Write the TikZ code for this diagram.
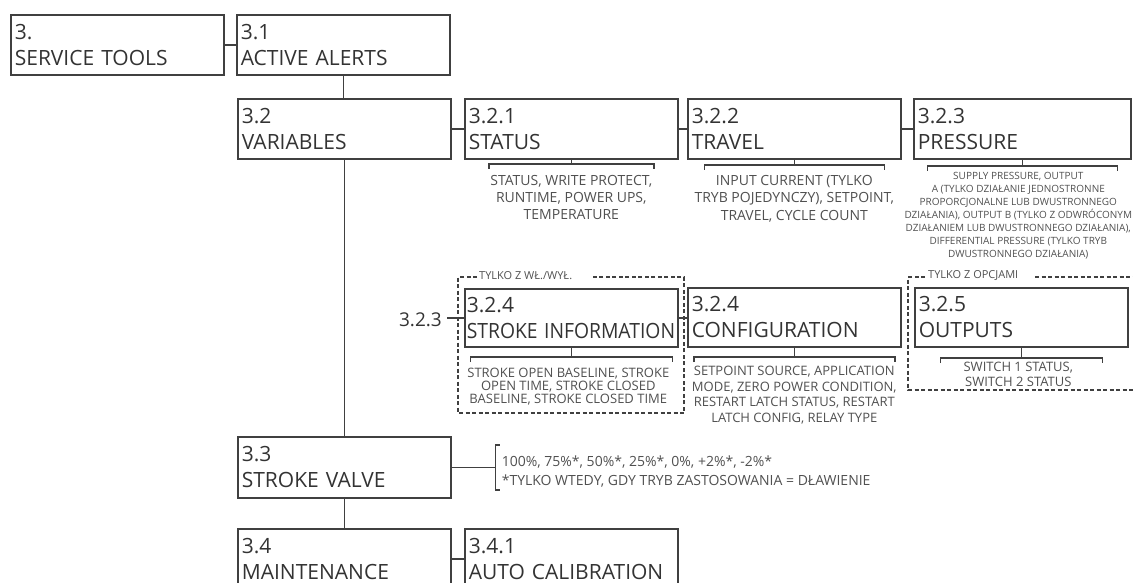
\documentclass[tikz,border=0pt]{standalone}
\usepackage{fontspec}
\setmainfont{Open Sans}
\usepackage{graphicx}
\usetikzlibrary{positioning}

\definecolor{linegray}{HTML}{404040}
\definecolor{boxtext}{HTML}{333333}
\definecolor{desctext}{HTML}{505050}

% stem below a box and a bracket with end ticks: node, bracket y, half width
\newcommand{\descbracket}[3]{%
  \coordinate (#1-y) at (0,#2);
  \draw[conn] (#1.south) -- (#1.south |- #1-y) coordinate (#1-br);
  \draw[conn] ([shift={(-#3,5)}]#1-br) -- ++(0,-5) -- ++(2*#3,0) -- ++(0,5);}

\begin{document}
\begin{tikzpicture}[x=1pt, y=-1pt,
  menubox/.style={rectangle, draw=linegray, line width=1.6pt, anchor=north west,
    minimum width=213pt, minimum height=60pt, inner xsep=4pt, inner ysep=0pt,
    text width=205pt, align=left, text=boxtext,
    font=\fontsize{21}{26}\selectfont},
  conn/.style={draw=linegray, line width=1.6pt},
  desc/.style={align=center, inner sep=0pt, anchor=north, text=desctext},
  grouplabel/.style={inner sep=0pt, anchor=west, text=desctext,
    font=\fontsize{11}{11}\selectfont},
  groupframe/.style={draw=linegray, line width=1.4pt,
    dash pattern=on 4pt off 2.5pt}]
  \useasboundingbox (0,0) rectangle (1133,583);

  % menu boxes
  \node[menubox] (svc) at (10,14) {3.\\SERVICE TOOLS};
  \node[menubox] (alerts) at (236,14) {3.1\\ACTIVE ALERTS};
  \node[menubox] (vars) at (237,98) {3.2\\VARIABLES};
  \node[menubox] (status) at (464,98) {3.2.1\\STATUS};
  \node[menubox] (travel) at (687,98) {3.2.2\\TRAVEL};
  \node[menubox, minimum width=217pt, text width=209pt] (pressure) at (913,98) {3.2.3\\PRESSURE};
  \node[menubox, minimum height=58pt, inner xsep=2pt, text width=209pt] (strokeinfo) at (464,288)
    {3.2.4\\\scalebox{0.92}[1]{STROKE INFORMATION}};
  \node[menubox, minimum height=59pt] (config) at (687,287) {3.2.4\\CONFIGURATION};
  \node[menubox, minimum height=59pt] (outputs) at (914,287) {3.2.5\\OUTPUTS};
  \node[menubox, minimum height=61pt] (strokevalve) at (237,436) {3.3\\STROKE VALVE};
  \node[menubox] (maint) at (237,528) {3.4\\MAINTENANCE};
  \node[menubox] (autocal) at (464,528) {3.4.1\\AUTO CALIBRATION};

  \node[inner xsep=5pt, inner ysep=0pt, anchor=base east, text=boxtext,
    font=\fontsize{19}{19}\selectfont] (pressref) at (447,326) {3.2.3};

  % tree connectors
  \draw[conn] (svc.east) -- (alerts.west);
  \draw[conn] (alerts.south) -- (alerts.south |- vars.north);
  \draw[conn] (vars.east) -- (status.west);
  \draw[conn] (status.east) -- (travel.west);
  \draw[conn] (travel.east) -- (pressure.west);
  \draw[conn] (vars.south) -- (vars.south |- strokevalve.north);
  \draw[conn] (strokevalve.south) -- (strokevalve.south |- maint.north);
  \draw[conn] (maint.east) -- (autocal.west);
  \draw[conn] (strokeinfo.east) -- (strokeinfo.east -| config.west);
  \draw[conn] (pressref.east |- strokeinfo.west) -- (strokeinfo.west);

  % brackets and contents
  \descbracket{status}{164}{82.5}
  \descbracket{travel}{165}{90}
  \descbracket{pressure}{166}{95}
  \descbracket{strokeinfo}{357}{101}
  \descbracket{config}{357}{100.5}
  \descbracket{outputs}{358}{81}

  \node[desc, below=10.8pt of status-br, font=\fontsize{14}{17}\selectfont] (statusdesc)
    {STATUS, WRITE PROTECT,\\RUNTIME, POWER UPS,\\TEMPERATURE};
  \node[desc, below=9.8pt of travel-br, font=\fontsize{14}{17.5}\selectfont] (traveldesc)
    {INPUT CURRENT (TYLKO\\TRYB POJEDYNCZY), SETPOINT,\\TRAVEL, CYCLE COUNT};
  \node[desc, below=6.3pt of pressure-br, xshift=-4pt, font=\fontsize{10}{13}\selectfont] (pressuredesc)
    {SUPPLY PRESSURE, OUTPUT\\A (TYLKO DZIAŁANIE JEDNOSTRONNE\\PROPORCJONALNE LUB DWUSTRONNEGO\\
     DZIAŁANIA), OUTPUT B (TYLKO Z ODWRÓCONYM\\DZIAŁANIEM LUB DWUSTRONNEGO DZIAŁANIA),\\
     DIFFERENTIAL PRESSURE (TYLKO TRYB\\DWUSTRONNEGO DZIAŁANIA)};
  \node[desc, below=10.7pt of strokeinfo-br, xshift=-3pt, font=\fontsize{13}{13}\selectfont] (strokedesc)
    {STROKE OPEN BASELINE, STROKE\\OPEN TIME, STROKE CLOSED\\BASELINE, STROKE CLOSED TIME};
  \node[desc, below=8.7pt of config-br, font=\fontsize{13}{15.7}\selectfont] (configdesc)
    {SETPOINT SOURCE, APPLICATION\\MODE, ZERO POWER CONDITION,\\RESTART LATCH STATUS, RESTART\\LATCH CONFIG, RELAY TYPE};
  \node[desc, below=3.7pt of outputs-br, xshift=-3pt, font=\fontsize{13}{15}\selectfont] (outputsdesc)
    {SWITCH 1 STATUS,\\SWITCH 2 STATUS};

  % stroke valve steps
  \draw[conn] (strokevalve.east) -- ++(44,0) coordinate (svbr);
  \draw[conn] ([shift={(4,-22.5)}]svbr) -- ++(-4,0) -- ++(0,45) -- ++(4,0);
  \node[desc, anchor=north west, align=left, font=\fontsize{14}{19}\selectfont] (svdesc)
    at ([shift={(6,-12)}]svbr)
    {100\%, 75\%*, 50\%*, 25\%*, 0\%, +2\%*, -2\%*\\*TYLKO WTEDY, GDY TRYB ZASTOSOWANIA = DŁAWIENIE};

  % optional groups
  \node[grouplabel] (onofflbl) at (479,276) {TYLKO Z WŁ./WYŁ.};
  \node[grouplabel] (optlbl) at (928,276) {TYLKO Z OPCJAMI};
  \draw[groupframe] (477,277) -- (458,277) |- (684,413) |- (592,277);
  \draw[groupframe] (925,277) -- (908,277) |- (1140,390);
  \draw[groupframe] (1035,277) -- (1140,277);
\end{tikzpicture}
\end{document}
